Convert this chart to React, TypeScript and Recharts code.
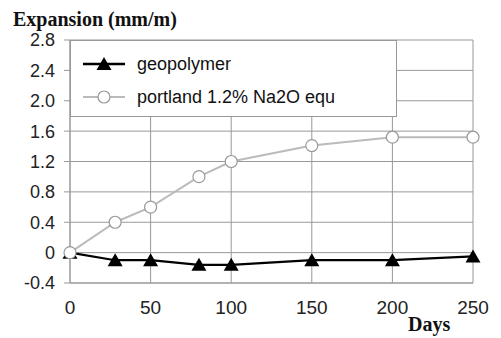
import React from "react";
import { LineChart, Line, XAxis, YAxis, CartesianGrid } from "recharts";

const days = [0, 28, 50, 80, 100, 150, 200, 250];
const geopolymer = [0, -0.1, -0.1, -0.16, -0.16, -0.1, -0.1, -0.05];
const portland = [0, 0.4, 0.6, 1.0, 1.2, 1.41, 1.52, 1.52];
const xTicks = [0, 50, 100, 150, 200, 250];
const yTicks = [-0.4, 0, 0.4, 0.8, 1.2, 1.6, 2.0, 2.4, 2.8];
const seriesNames = ["geopolymer", "portland 1.2% Na2O equ"];

const data = days.map((d, i) => ({ day: d, geo: geopolymer[i], port: portland[i] }));

const Triangle = (props: any) => {
  const { cx, cy } = props;
  if (cx == null || cy == null) return null;
  return <path d={`M${cx},${cy - 7} L${cx + 7.5},${cy + 6} L${cx - 7.5},${cy + 6} Z`} fill="#000" />;
};

const Circle = (props: any) => {
  const { cx, cy } = props;
  if (cx == null || cy == null) return null;
  return <circle cx={cx} cy={cy} r={6} fill="#fff" stroke="#999" strokeWidth={1.2} />;
};

const LegendBox = () => (
  <svg
    width={327}
    height={77}
    style={{ position: "absolute", left: 70, top: 40 }}
  >
    <rect x={0.5} y={0.5} width={326} height={76} fill="#fff" stroke="#999" />
    <line x1={13} y1={24} x2={55} y2={24} stroke="#000" strokeWidth={2.5} />
    <path d="M34,17 L41.5,30 L26.5,30 Z" fill="#000" />
    <line x1={13} y1={57} x2={55} y2={57} stroke="#bbb" strokeWidth={2} />
    <circle cx={34} cy={57} r={6} fill="#fff" stroke="#999" strokeWidth={1.2} />
    <text x={67} y={30} fontSize={18} fill="#111" fontFamily="Liberation Sans, Arial, sans-serif">
      {seriesNames[0]}
    </text>
    <text x={67} y={63} fontSize={18} fill="#111" fontFamily="Liberation Sans, Arial, sans-serif">
      {seriesNames[1]}
    </text>
  </svg>
);

export default function App() {
  return (
    <div style={{ position: "absolute", left: 0, top: 0, width: 501, height: 338, background: "#fff" }}>
      <LineChart width={501} height={338} data={data} margin={{ top: 40, right: 28, left: 0, bottom: 0 }}>
        <CartesianGrid stroke="#999" strokeWidth={1} />
        <XAxis
          dataKey="day"
          type="number"
          domain={[0, 250]}
          ticks={xTicks}
          tickLine={false}
          axisLine={{ stroke: "#999" }}
          height={55}
          tickMargin={12}
          tick={{ fontSize: 19, fill: "#222", fontFamily: "Liberation Sans, Arial, sans-serif" }}
        />
        <YAxis
          type="number"
          domain={[-0.4, 2.8]}
          ticks={yTicks}
          width={70}
          interval={0}
          tickFormatter={(v: number) => (v === 0 ? "0" : v.toFixed(1))}
          tickLine={{ stroke: "#999" }}
          tickSize={6}
          tickMargin={9}
          axisLine={{ stroke: "#999" }}
          tick={{ fontSize: 18, fill: "#222", fontFamily: "Liberation Sans, Arial, sans-serif" }}
        />
        <Line
          dataKey="geo"
          stroke="#000"
          strokeWidth={2.2}
          dot={<Triangle />}
          isAnimationActive={false}
          legendType="none"
        />
        <Line
          dataKey="port"
          stroke="#bbb"
          strokeWidth={2}
          dot={<Circle />}
          isAnimationActive={false}
          legendType="none"
        />
        <text x={13} y={26} fontSize={20} fontWeight="bold" fontFamily="Liberation Serif, Times New Roman, serif" fill="#111">
          Expansion (mm/m)
        </text>
        <text x={408} y={331} fontSize={20} fontWeight="bold" fontFamily="Liberation Serif, Times New Roman, serif" fill="#111">
          Days
        </text>
      </LineChart>
      <LegendBox />
    </div>
  );
}
